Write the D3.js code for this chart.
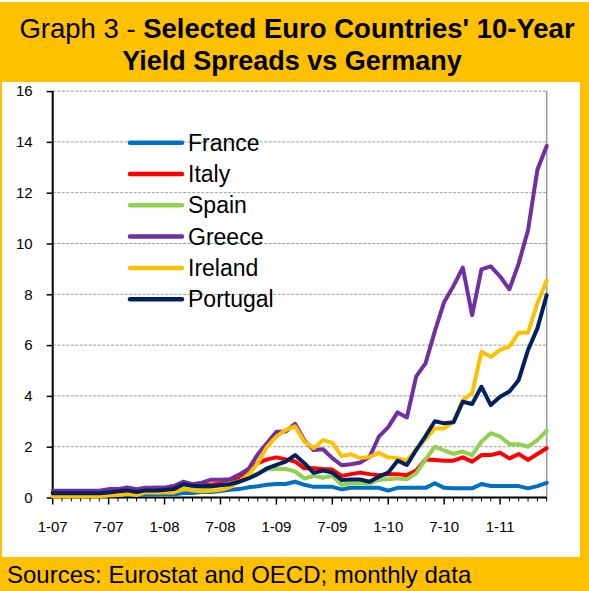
<!DOCTYPE html>
<html>
<head>
<meta charset="utf-8">
<script src="https://cdn.jsdelivr.net/npm/d3@7"></script>
<style>
  body { margin: 0; background: #ffffff; }
  text { font-family: "Liberation Sans", Arial, sans-serif; }
</style>
</head>
<body>
<div id="chart"></div>
<script>
// 1. Data (monthly, 1-07 .. 6-11)
const tickLabels = ["1-07", "7-07", "1-08", "7-08", "1-09", "7-09", "1-10", "7-10", "1-11"];
const countries = ["France", "Italy", "Spain", "Greece", "Ireland", "Portugal"];
const colors = ["#0070C0", "#FF0000", "#92D050", "#7030A0", "#FFC000", "#002060"];

const france = [0.08,0.08,0.08,0.08,0.08,0.08,0.1,0.1,0.12,0.1,0.12,0.12,0.15,0.12,
  0.18,0.18,0.22,0.22,0.26,0.3,0.33,0.4,0.44,0.5,0.53,0.53,0.62,0.5,
  0.42,0.42,0.42,0.32,0.38,0.38,0.38,0.38,0.27,0.38,0.38,0.38,0.38,0.56,
  0.38,0.36,0.36,0.36,0.53,0.45,0.45,0.45,0.45,0.36,0.45,0.58];
const italy = [0.2,0.2,0.2,0.2,0.2,0.2,0.25,0.28,0.3,0.28,0.35,0.38,0.38,0.45,
  0.55,0.5,0.5,0.5,0.55,0.62,0.8,1.1,1.35,1.5,1.58,1.5,1.42,1.15,
  1.15,1.12,1.1,0.85,0.92,0.98,0.92,0.88,0.92,0.92,0.88,1.06,1.5,1.48,
  1.45,1.45,1.58,1.41,1.67,1.67,1.76,1.54,1.71,1.48,1.71,1.94];
const spain = [0.05,0.05,0.05,0.05,0.05,0.05,0.08,0.1,0.15,0.2,0.22,0.2,0.22,0.22,
  0.3,0.33,0.37,0.42,0.48,0.55,0.63,0.8,0.95,1.1,1.13,1.12,1.03,0.75,
  0.85,0.78,0.85,0.5,0.56,0.56,0.55,0.7,0.72,0.76,0.72,0.95,1.5,2.0,
  1.85,1.72,1.81,1.67,2.2,2.53,2.4,2.1,2.1,2.0,2.26,2.63];
const greece = [0.27,0.27,0.27,0.27,0.27,0.27,0.33,0.33,0.4,0.33,0.38,0.38,0.38,0.45,
  0.62,0.52,0.58,0.7,0.7,0.72,0.9,1.12,1.7,2.15,2.59,2.6,2.9,2.25,
  1.87,1.9,1.55,1.27,1.31,1.38,1.6,2.4,2.77,3.35,3.15,4.77,5.28,6.55,
  7.7,8.33,9.05,7.18,8.98,9.1,8.7,8.2,9.22,10.53,12.9,13.84];
const ireland = [0.05,0.05,0.05,0.05,0.05,0.05,0.1,0.1,0.15,0.1,0.2,0.2,0.2,0.2,
  0.36,0.28,0.25,0.27,0.3,0.4,0.62,0.9,1.35,2.0,2.4,2.66,2.8,2.2,
  1.94,2.26,2.15,1.63,1.7,1.55,1.6,1.76,1.58,1.55,1.45,1.9,2.3,2.72,
  2.72,2.98,3.84,4.1,5.74,5.54,5.81,5.94,6.49,6.49,7.65,8.54];
const portugal = [0.17,0.17,0.17,0.17,0.17,0.17,0.2,0.25,0.28,0.22,0.28,0.28,0.3,0.33,
  0.52,0.46,0.44,0.44,0.48,0.52,0.62,0.75,0.92,1.15,1.28,1.41,1.67,1.35,
  0.97,1.06,0.98,0.69,0.71,0.71,0.62,0.82,0.98,1.45,1.28,1.87,2.42,3.0,
  2.92,2.96,3.77,3.68,4.36,3.64,3.97,4.17,4.63,5.81,6.66,7.97];

const yTicks = [0, 2, 4, 6, 8, 10, 12, 14, 16];

const seriesValues = [france, italy, spain, greece, ireland, portugal];
const nMonths = france.length;

// 2. Sizes
const svgWidth = 589;
const svgHeight = 591;
const plot = { left: 52.7, right: 546.7, top: 91.1, bottom: 497.5 };

const svg = d3.select("#chart")
  .append("svg")
  .attr("width", svgWidth)
  .attr("height", svgHeight);

// 3. Frame: orange border, white chart area
svg.append("rect")
  .attr("x", 0).attr("y", 2)
  .attr("width", 589).attr("height", 589)
  .attr("fill", "#FFC000");

svg.append("rect")
  .attr("x", 2).attr("y", 82)
  .attr("width", 578).attr("height", 475)
  .attr("fill", "#ffffff");

// title
const title1 = svg.append("text")
  .attr("x", 297).attr("y", 38)
  .attr("text-anchor", "middle")
  .attr("font-size", "27.5px");
title1.append("tspan").text("Graph 3 - ");
title1.append("tspan").attr("font-weight", "bold").text("Selected Euro Countries' 10-Year");

svg.append("text")
  .attr("x", 292).attr("y", 70)
  .attr("text-anchor", "middle")
  .attr("font-size", "27px")
  .attr("font-weight", "bold")
  .text("Yield Spreads vs Germany");

svg.append("text")
  .attr("x", 7).attr("y", 583)
  .attr("font-size", "24px")
  .text("Sources: Eurostat and OECD; monthly data");

// 4. Scales
const xScale = d3.scaleLinear()
  .domain([0, nMonths - 1])
  .range([plot.left, plot.right]);

const yScale = d3.scaleLinear()
  .domain([0, 16])
  .range([plot.bottom, plot.top]);

// 5. Gridlines + plot border
svg.append("g")
  .selectAll("line")
  .data(yTicks.slice(1))
  .enter()
  .append("line")
  .attr("x1", plot.left).attr("x2", plot.right)
  .attr("y1", d => yScale(d)).attr("y2", d => yScale(d))
  .attr("stroke", "#9a9a9a")
  .attr("stroke-width", 1)
  .attr("stroke-dasharray", "3,1.5");

svg.append("line")
  .attr("x1", plot.right).attr("x2", plot.right)
  .attr("y1", plot.top).attr("y2", plot.bottom)
  .attr("stroke", "#9a9a9a")
  .attr("stroke-width", 1.5);

// 6. Axes
const leftAxis = d3.axisLeft(yScale)
  .tickValues(yTicks)
  .tickSize(6)
  .tickPadding(14)
  .tickFormat(d3.format("d"));

svg.append("g")
  .attr("transform", `translate(${plot.left},0)`)
  .call(leftAxis)
  .call(g => g.select(".domain").remove())
  .call(g => g.selectAll("line").attr("stroke", "#000").attr("stroke-width", 1.5))
  .call(g => g.selectAll("text").attr("font-size", "15px").attr("fill", "#000")
    .attr("font-family", "Liberation Sans, Arial, sans-serif"));

svg.append("line")
  .attr("x1", plot.left).attr("x2", plot.left)
  .attr("y1", plot.top).attr("y2", plot.bottom)
  .attr("stroke", "#000").attr("stroke-width", 2);

// minor ticks every month
const monthIdx = d3.range(nMonths);
svg.append("g")
  .selectAll("line")
  .data(monthIdx)
  .enter()
  .append("line")
  .attr("x1", d => xScale(d)).attr("x2", d => xScale(d))
  .attr("y1", plot.bottom).attr("y2", d => d % 6 === 0 ? plot.bottom + 7 : plot.bottom + 4)
  .attr("stroke", "#000")
  .attr("stroke-width", d => d % 6 === 0 ? 1.5 : 1);

svg.append("line")
  .attr("x1", plot.left).attr("x2", plot.right)
  .attr("y1", plot.bottom).attr("y2", plot.bottom)
  .attr("stroke", "#000").attr("stroke-width", 2);

svg.append("g")
  .selectAll("text")
  .data(tickLabels)
  .enter()
  .append("text")
  .attr("x", (d, i) => xScale(i * 6))
  .attr("y", 532)
  .attr("text-anchor", "middle")
  .attr("font-size", "15px")
  .text(d => d);

// 7. Lines
const line = d3.line()
  .x((d, i) => xScale(i))
  .y(d => yScale(d));

svg.append("g")
  .selectAll("path")
  .data(seriesValues)
  .enter()
  .append("path")
  .attr("d", d => line(d))
  .attr("fill", "none")
  .attr("stroke", (d, i) => colors[i])
  .attr("stroke-width", 4)
  .attr("stroke-linejoin", "round")
  .attr("stroke-linecap", "round");

// 8. Legend
const legend = svg.append("g")
  .selectAll("g")
  .data(countries)
  .enter()
  .append("g")
  .attr("transform", (d, i) => `translate(130,${142.7 + i * 31.3})`);

legend.append("line")
  .attr("x1", 0).attr("x2", 52)
  .attr("stroke", (d, i) => colors[i])
  .attr("stroke-width", 4.5)
  .attr("stroke-linecap", "round");

legend.append("text")
  .attr("x", 58).attr("y", 8)
  .attr("font-size", "23px")
  .text(d => d);
</script>
</body>
</html>
